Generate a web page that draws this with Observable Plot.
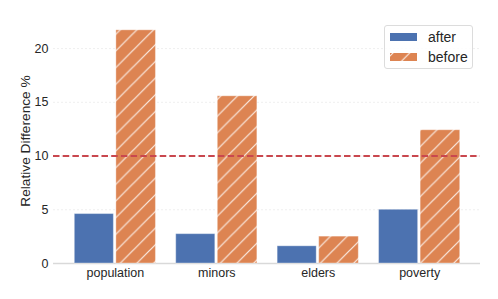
<!DOCTYPE html>
<html>
<head>
<meta charset="utf-8">
<script src="https://cdn.jsdelivr.net/npm/d3@7"></script>
<script src="https://cdn.jsdelivr.net/npm/@observablehq/plot@0.6"></script>
<style>
  html, body { margin: 0; padding: 0; background: #fff; }
  #wrap { position: relative; width: 498px; height: 299px; font-family: "Liberation Sans", Arial, sans-serif; color: #262626; }
  #legend { position: absolute; left: 384px; top: 25px; width: 89px; height: 44px; border: 1px solid #dcdcdc; border-radius: 3px; background: rgba(255,255,255,0.85); box-sizing: border-box; }
  .item { position: absolute; left: 5px; height: 14px; }
  .item svg { position: absolute; left: 0; top: 2px; }
  .item span { position: absolute; left: 38px; top: -2px; font-size: 14px; white-space: nowrap; line-height: 16px; }
</style>
</head>
<body>
<div id="wrap"></div>
<script>
const categories = ["population", "minors", "elders", "poverty"];
const afterValues = [4.6, 2.73, 1.6, 5.0];
const beforeValues = [21.7, 15.56, 2.5, 12.4];
const seriesNames = ["after", "before"];
const threshold = 10;
const yTicks = [0, 5, 10, 15, 20];
const gridTicks = [5, 10, 15, 20];
const yLabel = "Relative Difference %";

const colors = { after: "#4c72b0", before: "#dd8452" };

const afterRows = categories.map((c, i) => ({ cat: c, i, value: afterValues[i] }));
const beforeRows = categories.map((c, i) => ({ cat: c, i, value: beforeValues[i] }));

const chart = Plot.plot({
  width: 498,
  height: 299,
  marginLeft: 53,
  marginRight: 18,
  marginTop: 18,
  marginBottom: 36,
  style: { fontFamily: "'Liberation Sans', Arial, sans-serif", fontSize: "12.5px", color: "#262626", background: "transparent", overflow: "visible" },
  x: { type: "linear", domain: [-0.61, 3.6] },
  y: { domain: [0, 22.8] },
  marks: [
    Plot.ruleY(gridTicks, { stroke: "#ebebeb", strokeWidth: 0.8, strokeDasharray: "2,2" }),
    Plot.ruleY([0], { stroke: "#d9d9d9", strokeWidth: 1.3 }),
    Plot.rectY(afterRows, { x1: d => d.i - 0.4, x2: d => d.i, y: "value", fill: colors.after, insetRight: 1.5, stroke: "white", strokeOpacity: 0.35, strokeWidth: 1 }),
    Plot.rectY(beforeRows, { x1: d => d.i, x2: d => d.i + 0.4, y: "value", fill: "url(#hatch)", insetLeft: 1, stroke: "white", strokeOpacity: 0.35, strokeWidth: 1 }),
    Plot.ruleY([threshold], { stroke: "#c9474e", strokeWidth: 2, strokeDasharray: "6.5,3.2" }),
    Plot.axisX({ ticks: [0, 1, 2, 3], tickFormat: i => categories[i], tickSize: 0, tickPadding: 5, label: null, fontSize: 12.5 }),
    Plot.axisY({ ticks: yTicks, tickSize: 0, tickPadding: 5, label: null, fontSize: 12.5 }),
    Plot.text([yLabel], { frameAnchor: "left", dx: -28, rotate: -90, textAnchor: "middle", lineAnchor: "middle", fontSize: 13.7, text: d => d, fill: "#262626" })
  ]
});

d3.select(chart).insert("defs", ":first-child").html(`
  <pattern id="hatch" patternUnits="userSpaceOnUse" width="16.67" height="16.67">
    <rect width="16.67" height="16.67" fill="${colors.before}"></rect>
    <path d="M-2,2 L2,-2 M0,16.67 L16.67,0 M14.67,18.67 L18.67,14.67" stroke="white" stroke-opacity="0.85" stroke-width="1.2"></path>
  </pattern>`);

const wrap = document.getElementById("wrap");
wrap.appendChild(chart);

const legend = document.createElement("div");
legend.id = "legend";
seriesNames.forEach((name, k) => {
  const item = document.createElement("div");
  item.className = "item";
  item.style.top = (5 + k * 19.5) + "px";
  const fill = name === "before" ? "url(#lhatch)" : colors[name];
  item.innerHTML = `<svg width="28" height="8">
    <defs><pattern id="lhatch" patternUnits="userSpaceOnUse" width="16.67" height="16.67" x="3">
      <rect width="16.67" height="16.67" fill="${colors.before}"></rect>
      <path d="M-2,2 L2,-2 M0,16.67 L16.67,0 M14.67,18.67 L18.67,14.67" stroke="white" stroke-opacity="0.85" stroke-width="1.2"></path>
    </pattern></defs>
    <rect x="0" y="0" width="27" height="8" fill="${fill}"></rect></svg><span>${name}</span>`;
  legend.appendChild(item);
});
wrap.appendChild(legend);
</script>
</body>
</html>
